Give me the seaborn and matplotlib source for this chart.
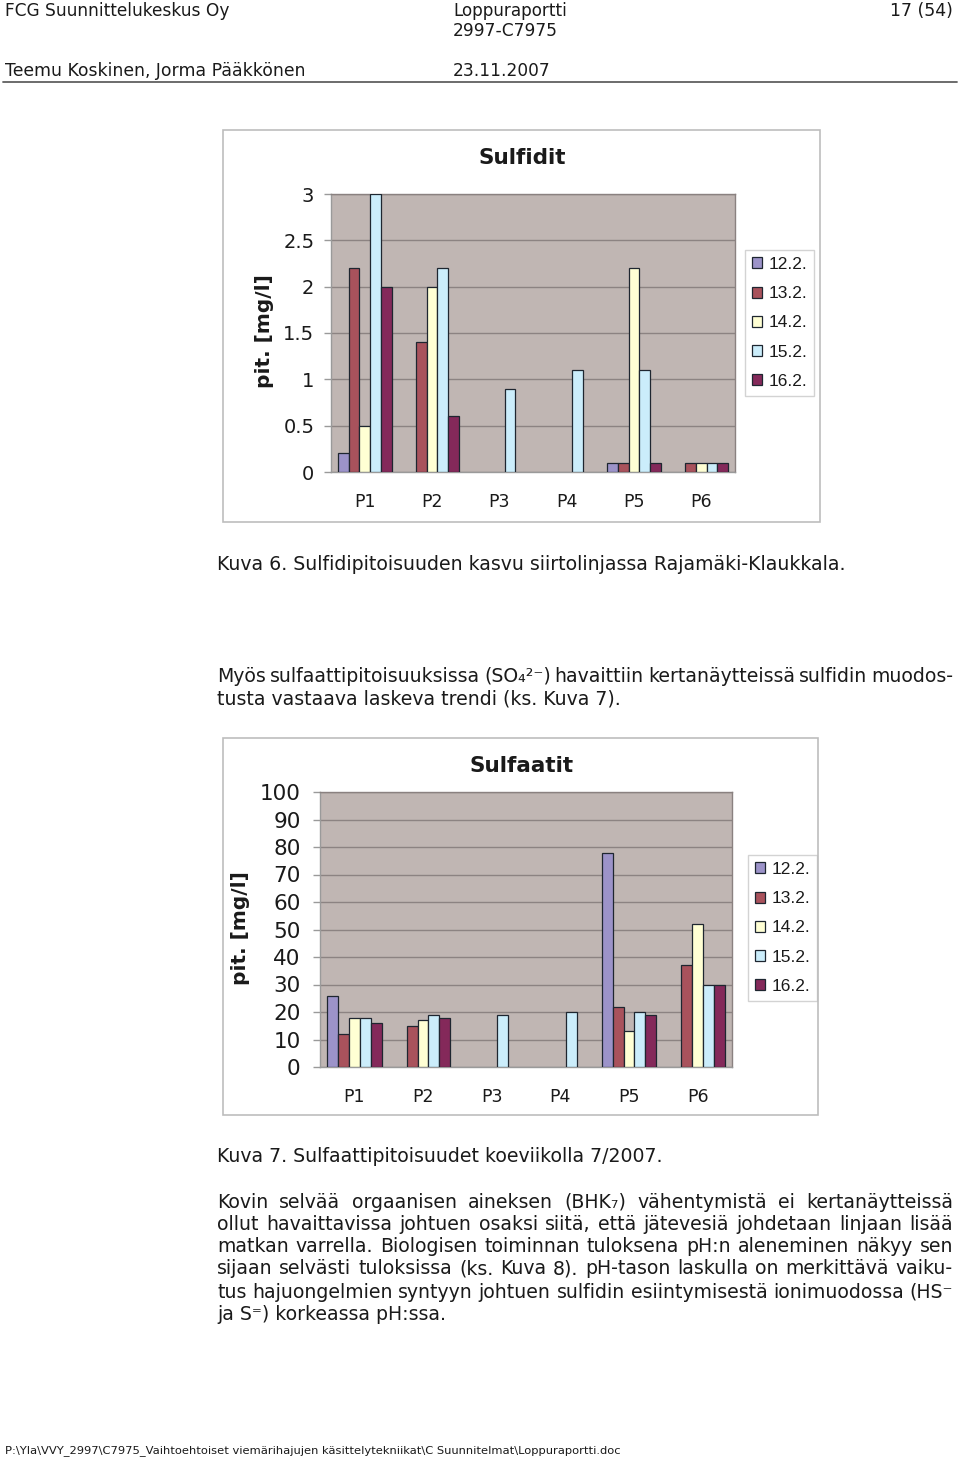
import numpy as np
import pandas as pd
import matplotlib
matplotlib.use("Agg")
import matplotlib.pyplot as plt
import seaborn as sns
from matplotlib.patches import Rectangle
from matplotlib.lines import Line2D

nan = np.nan

# ---------------- data ----------------
sites = ["P1", "P2", "P3", "P4", "P5", "P6"]
dates = ["12.2.", "13.2.", "14.2.", "15.2.", "16.2."]
date_colors = ["#9C93C9", "#A9525C", "#FFFFD4", "#CBEDFB", "#84295A"]

# Sulfidit (mg/l)
sulfidit_12 = [0.2, nan, nan, nan, 0.1, nan]
sulfidit_13 = [2.2, 1.4, nan, nan, 0.1, 0.1]
sulfidit_14 = [0.5, 2.0, nan, nan, 2.2, 0.1]
sulfidit_15 = [3.0, 2.2, 0.9, 1.1, 1.1, 0.1]
sulfidit_16 = [2.0, 0.6, nan, nan, 0.1, 0.1]
sulfidit_ticks = [0, 0.5, 1, 1.5, 2, 2.5, 3]
sulfidit_ticklabels = ["0", "0.5", "1", "1.5", "2", "2.5", "3"]

# Sulfaatit (mg/l)
sulfaatit_12 = [26, nan, nan, nan, 78, nan]
sulfaatit_13 = [12, 15, nan, nan, 22, 37]
sulfaatit_14 = [18, 17, nan, nan, 13, 52]
sulfaatit_15 = [18, 19, 19, 20, 20, 30]
sulfaatit_16 = [16, 18, nan, nan, 19, 30]
sulfaatit_ticks = [0, 10, 20, 30, 40, 50, 60, 70, 80, 90, 100]
sulfaatit_ticklabels = [str(t) for t in sulfaatit_ticks]


def long_frame(series):
    rows = []
    for d, vals in zip(dates, series):
        for s, v in zip(sites, vals):
            if not np.isnan(v):
                rows.append({"site": s, "date": d, "value": v})
    return pd.DataFrame(rows)


df_sulfidit = long_frame([sulfidit_12, sulfidit_13, sulfidit_14, sulfidit_15, sulfidit_16])
df_sulfaatit = long_frame([sulfaatit_12, sulfaatit_13, sulfaatit_14, sulfaatit_15, sulfaatit_16])

# ---------------- figure ----------------
sns.set_theme(style="white")
plt.rcParams["font.family"] = ["DejaVu Sans"]
W, H = 960, 1460
fig = plt.figure(figsize=(W / 100, H / 100), dpi=100, facecolor="white")
renderer = fig.canvas.get_renderer()


def fx(x):
    return x / W


def fy(y):
    return 1 - y / H


def ax_rect(x0, y0, x1, y1):
    return [fx(x0), fy(y1), (x1 - x0) / W, (y1 - y0) / H]


def fit_text(s, x0, x1, yc, family="DejaVu Sans", weight="normal", base=12, color="#1a1a1a"):
    t = fig.text(fx(x0), fy(yc), s, fontsize=base, family=family, weight=weight,
                 ha="left", va="center", color=color)
    w = t.get_window_extent(renderer).width
    t.set_fontsize(base * (x1 - x0) / w)
    return t


def plain_text(s, x0, yc, fs, family="DejaVu Sans", color="#1a1a1a"):
    return fig.text(fx(x0), fy(yc), s, fontsize=fs, family=family,
                    ha="left", va="center", color=color)


def justify(s, x0, x1, yc, fs, color="#1a1a1a"):
    words = s.split(" ")
    objs = [fig.text(0, fy(yc), w, fontsize=fs, ha="left", va="center", color=color) for w in words]
    widths = [o.get_window_extent(renderer).width for o in objs]
    gap = (x1 - x0 - sum(widths)) / (len(words) - 1)
    x = x0
    for o, w in zip(objs, widths):
        o.set_x(fx(x))
        x += w + gap


# ---------------- header / footer ----------------
fit_text("FCG Suunnittelukeskus Oy", 5, 229, 11)
fit_text("Loppuraportti", 453, 566, 11)
fit_text("2997-C7975", 453, 557, 31)
fit_text("17 (54)", 890, 953, 11)
fit_text("Teemu Koskinen, Jorma Pääkkönen", 5, 304, 71)
fit_text("23.11.2007", 453, 550, 71)
fig.add_artist(Line2D([fx(3), fx(957)], [fy(82), fy(82)], color="#606060", lw=1.3,
                      transform=fig.transFigure))
fit_text("P:\\Yla\\VVY_2997\\C7975_Vaihtoehtoiset viemärihajujen käsittelytekniikat\\C Suunnitelmat\\Loppuraportti.doc",
         5, 614, 1451)

# ---------------- body text ----------------
cap6 = fit_text("Kuva 6. Sulfidipitoisuuden kasvu siirtolinjassa Rajamäki-Klaukkala.", 217, 843, 564)
fs_body = cap6.get_fontsize()
justify("Myös sulfaattipitoisuuksissa (SO\u2084\u00b2\u207b) havaittiin kertanäytteissä sulfidin muodos-",
        217, 953, 676, fs_body)
plain_text("tusta vastaava laskeva trendi (ks. Kuva 7).", 217, 699, fs_body)
plain_text("Kuva 7. Sulfaattipitoisuudet koeviikolla 7/2007.", 217, 1157, fs_body)
para = [
    "Kovin selvää orgaanisen aineksen (BHK\u2087) vähentymistä ei kertanäytteissä",
    "ollut havaittavissa johtuen osaksi siitä, että jätevesiä johdetaan linjaan lisää",
    "matkan varrella. Biologisen toiminnan tuloksena pH:n aleneminen näkyy sen",
    "sijaan selvästi tuloksissa (ks. Kuva 8). pH-tason laskulla on merkittävä vaiku-",
    "tus hajuongelmien syntyyn johtuen sulfidin esiintymisestä ionimuodossa (HS\u207b",
]
para_y = [1202, 1224, 1247, 1269, 1292]
for line, yy in zip(para, para_y):
    justify(line, 217, 953, yy, fs_body)
plain_text("ja S\u207c) korkeassa pH:ssa.", 217, 1314, fs_body)


# ---------------- charts ----------------
def draw_chart(df, axpos, frame, title, title_xy, ylab_xy, ylim, ticks, ticklabels,
               ytick_fs, ytick_pad, legend_xy):
    fig.add_artist(Rectangle((fx(frame[0]), fy(frame[3])), (frame[2] - frame[0]) / W,
                             (frame[3] - frame[1]) / H, transform=fig.transFigure,
                             fill=False, edgecolor="#BDBDBD", lw=1.2))
    ax = fig.add_axes(ax_rect(*axpos))
    sns.barplot(data=df, x="site", y="value", hue="date", order=sites, hue_order=dates,
                palette=date_colors, saturation=1, width=0.8, errorbar=None,
                edgecolor="#1E2630", linewidth=0.9, ax=ax, zorder=3)
    ax.set_facecolor("#C0B6B3")
    ax.set_xlim(-0.5, 5.5)
    ax.set_ylim(*ylim)
    ax.set_yticks(ticks)
    ax.set_yticklabels(ticklabels)
    ax.yaxis.grid(True, color="#8C8382", lw=1, zorder=0)
    ax.set_axisbelow(True)
    ax.set_xlabel("")
    ax.set_ylabel("")
    ax.set_xticks(range(len(sites)))
    ax.set_xticklabels(sites)
    ax.set_xticks(np.arange(-0.5, len(sites), 1.0), minor=True)
    ax.tick_params(axis="x", which="major", length=0, pad=15, labelsize=12.5, labelcolor="#1a1a1a")
    ax.tick_params(axis="x", which="minor", length=5, width=1, color="#9A9A9A", direction="out")
    ax.tick_params(axis="y", which="major", length=5, width=1, color="#9A9A9A", direction="out",
                   pad=ytick_pad, labelsize=ytick_fs, labelcolor="#1a1a1a")
    ax.tick_params(left=True, bottom=True)
    ax.tick_params(axis="x", which="major", bottom=False)
    for sp in ax.spines.values():
        sp.set_visible(True)
        sp.set_color("#8A8180")
        sp.set_linewidth(1)
    ax.spines["left"].set_color("#9A9A9A")
    ax.spines["bottom"].set_color("#9A9A9A")
    fig.text(fx(title_xy[0]), fy(title_xy[1]), title, fontsize=15.5, weight="bold",
             ha="center", va="center", color="#1a1a1a")
    fig.text(fx(ylab_xy[0]), fy(ylab_xy[1]), "pit. [mg/l]", fontsize=14.5, weight="bold",
             rotation=90, ha="center", va="center", color="#1a1a1a")
    handles, labels = ax.get_legend_handles_labels()
    if ax.get_legend() is not None:
        ax.get_legend().remove()
    leg = ax.legend(handles, labels, loc="upper left",
                    bbox_to_anchor=(fx(legend_xy[0]), fy(legend_xy[1])),
                    bbox_transform=fig.transFigure, frameon=True, fancybox=False,
                    prop={"family": "Liberation Sans", "size": 12.5},
                    handlelength=0.6, handleheight=0.6, handletextpad=0.35,
                    labelspacing=0.82, borderpad=0.4, borderaxespad=0)
    leg.get_frame().set_edgecolor("#C8C8C8")
    leg.get_frame().set_linewidth(1)
    leg.get_frame().set_facecolor("white")
    for t in leg.get_texts():
        t.set_color("#1a1a1a")
    return ax


draw_chart(df_sulfidit, (331, 194, 735, 472), (223, 130, 820, 522), "Sulfidit", (522, 158),
           (265, 331), (0, 3), sulfidit_ticks, sulfidit_ticklabels, 14, 7, (745, 250))
draw_chart(df_sulfaatit, (320, 792, 732, 1067), (223, 738, 818, 1115), "Sulfaatit", (522, 766),
           (241, 928), (0, 100), sulfaatit_ticks, sulfaatit_ticklabels, 15.5, 9, (748, 855))

fig.savefig("out.png", dpi=100, facecolor="white")
